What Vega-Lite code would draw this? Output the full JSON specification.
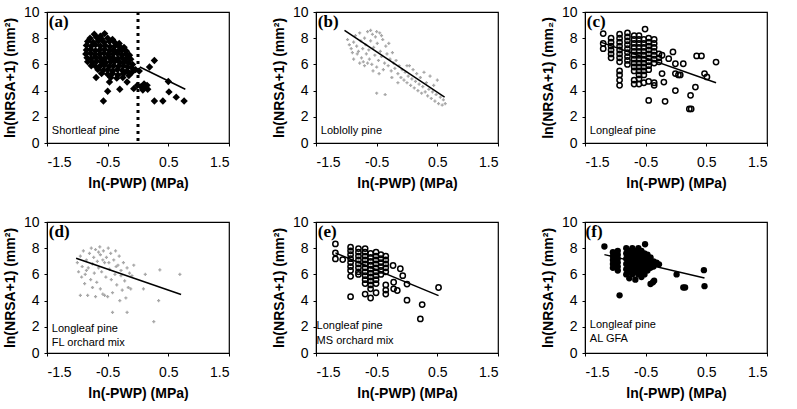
{
  "$schema": "https://vega.github.io/schema/vega-lite/v6.json",
  "background": "white",
  "padding": {"left": 2, "top": 4, "right": 5, "bottom": 5},
  "config": {
    "locale": {"number": {"decimal": ".", "thousands": ",", "grouping": [3], "currency": ["$", ""], "minus": "-"}},
    "view": {"stroke": "black", "strokeWidth": 1.2},
    "style": {"cell": {"stroke": "black", "strokeWidth": 1.2}},
    "axis": {"grid": false, "domainColor": "black", "tickColor": "black", "tickSize": 3, "labelFont": "Liberation Sans", "labelFontSize": 14, "labelColor": "black", "titleFont": "Liberation Sans", "titleFontSize": 14, "titleFontWeight": "bold", "titleColor": "black", "labelOverlap": false},
    "axisX": {"labelPadding": 9, "titlePadding": 7},
    "axisY": {"labelPadding": 5, "titlePadding": 6}
  },
  "datasets": {
    "pa": [
      {"x": -0.72, "y": 8.3}, {"x": -0.55, "y": 8.35}, {"x": -0.62, "y": 8.15},
      {"x": -0.79, "y": 8.0}, {"x": -0.68, "y": 8.05}, {"x": -0.6, "y": 7.95}, {"x": -0.5, "y": 8.0}, {"x": -0.42, "y": 7.9},
      {"x": -0.83, "y": 7.75}, {"x": -0.74, "y": 7.7}, {"x": -0.65, "y": 7.8}, {"x": -0.56, "y": 7.7}, {"x": -0.47, "y": 7.75}, {"x": -0.38, "y": 7.65}, {"x": -0.31, "y": 7.6},
      {"x": -0.85, "y": 7.45}, {"x": -0.77, "y": 7.4}, {"x": -0.7, "y": 7.5}, {"x": -0.62, "y": 7.4}, {"x": -0.54, "y": 7.45}, {"x": -0.46, "y": 7.35}, {"x": -0.38, "y": 7.4}, {"x": -0.3, "y": 7.35}, {"x": -0.23, "y": 7.3},
      {"x": -0.85, "y": 7.1}, {"x": -0.78, "y": 7.15}, {"x": -0.7, "y": 7.05}, {"x": -0.63, "y": 7.1}, {"x": -0.55, "y": 7.15}, {"x": -0.47, "y": 7.05}, {"x": -0.4, "y": 7.1}, {"x": -0.33, "y": 7.0}, {"x": -0.26, "y": 7.1}, {"x": -0.19, "y": 7.0},
      {"x": -0.86, "y": 6.8}, {"x": -0.78, "y": 6.85}, {"x": -0.71, "y": 6.75}, {"x": -0.63, "y": 6.8}, {"x": -0.56, "y": 6.85}, {"x": -0.49, "y": 6.75}, {"x": -0.41, "y": 6.8}, {"x": -0.34, "y": 6.85}, {"x": -0.27, "y": 6.75}, {"x": -0.2, "y": 6.8}, {"x": -0.14, "y": 6.7},
      {"x": -0.84, "y": 6.5}, {"x": -0.77, "y": 6.45}, {"x": -0.7, "y": 6.55}, {"x": -0.62, "y": 6.5}, {"x": -0.55, "y": 6.45}, {"x": -0.48, "y": 6.55}, {"x": -0.41, "y": 6.5}, {"x": -0.33, "y": 6.45}, {"x": -0.26, "y": 6.5}, {"x": -0.19, "y": 6.45}, {"x": -0.12, "y": 6.4},
      {"x": -0.83, "y": 6.2}, {"x": -0.75, "y": 6.15}, {"x": -0.68, "y": 6.25}, {"x": -0.6, "y": 6.2}, {"x": -0.53, "y": 6.15}, {"x": -0.45, "y": 6.2}, {"x": -0.38, "y": 6.25}, {"x": -0.3, "y": 6.15}, {"x": -0.23, "y": 6.2}, {"x": -0.16, "y": 6.1}, {"x": -0.09, "y": 6.0},
      {"x": -0.77, "y": 5.9}, {"x": -0.7, "y": 5.85}, {"x": -0.62, "y": 5.9}, {"x": -0.55, "y": 5.95}, {"x": -0.47, "y": 5.85}, {"x": -0.4, "y": 5.9}, {"x": -0.32, "y": 5.85}, {"x": -0.24, "y": 5.9}, {"x": -0.17, "y": 5.8}, {"x": -0.1, "y": 5.75}, {"x": -0.04, "y": 5.6},
      {"x": -0.66, "y": 5.6}, {"x": -0.57, "y": 5.55}, {"x": -0.5, "y": 5.6}, {"x": -0.42, "y": 5.5}, {"x": -0.34, "y": 5.6}, {"x": -0.26, "y": 5.55}, {"x": -0.18, "y": 5.5}, {"x": -0.1, "y": 5.4},
      {"x": -0.6, "y": 5.3}, {"x": -0.5, "y": 5.25}, {"x": -0.42, "y": 5.3}, {"x": -0.33, "y": 5.2}, {"x": -0.24, "y": 5.3}, {"x": -0.15, "y": 5.15},
      {"x": -0.45, "y": 5.0}, {"x": -0.35, "y": 4.95}, {"x": -0.25, "y": 5.0},
      {"x": -0.69, "y": 5.0}, {"x": -0.57, "y": 3.2}, {"x": -0.5, "y": 3.95}, {"x": -0.47, "y": 4.66}, {"x": -0.3, "y": 4.1}, {"x": -0.18, "y": 4.66}, {"x": -0.07, "y": 4.15},
      {"x": 0.02, "y": 5.5}, {"x": -0.01, "y": 4.4}, {"x": 0.1, "y": 4.5}, {"x": 0.16, "y": 4.1}, {"x": 0.12, "y": 4.3}, {"x": 0.05, "y": 4.3}, {"x": 0.08, "y": 4.05}, {"x": 0.15, "y": 4.4},
      {"x": 0.19, "y": 5.8}, {"x": 0.27, "y": 6.3}, {"x": 0.27, "y": 3.2}, {"x": 0.41, "y": 3.2}, {"x": 0.51, "y": 3.9}, {"x": 0.5, "y": 4.7}, {"x": 0.63, "y": 3.5}, {"x": 0.76, "y": 3.2}
    ],
    "la": [{"x": 0.03, "y": 5.8}, {"x": 0.78, "y": 4.1}],
    "pb": [
      {"x": -0.98, "y": 7.9}, {"x": -0.95, "y": 7.5}, {"x": -0.92, "y": 7.2}, {"x": -0.9, "y": 6.9}, {"x": -0.88, "y": 7.7}, {"x": -0.85, "y": 8.2}, {"x": -0.83, "y": 7.4}, {"x": -0.82, "y": 6.8},
      {"x": -0.8, "y": 7.0}, {"x": -0.78, "y": 8.4}, {"x": -0.76, "y": 7.8}, {"x": -0.75, "y": 6.5}, {"x": -0.73, "y": 7.2}, {"x": -0.72, "y": 6.2}, {"x": -0.7, "y": 8.0}, {"x": -0.68, "y": 7.5},
      {"x": -0.67, "y": 6.8}, {"x": -0.65, "y": 8.5}, {"x": -0.63, "y": 7.1}, {"x": -0.62, "y": 6.4}, {"x": -0.6, "y": 7.8}, {"x": -0.58, "y": 6.0}, {"x": -0.57, "y": 8.3}, {"x": -0.55, "y": 7.3},
      {"x": -0.53, "y": 6.7}, {"x": -0.52, "y": 8.1}, {"x": -0.5, "y": 5.8}, {"x": -0.49, "y": 7.6}, {"x": -0.47, "y": 6.3}, {"x": -0.45, "y": 8.4}, {"x": -0.44, "y": 7.0}, {"x": -0.42, "y": 6.6},
      {"x": -0.4, "y": 7.9}, {"x": -0.39, "y": 5.6}, {"x": -0.37, "y": 6.1}, {"x": -0.35, "y": 7.4}, {"x": -0.33, "y": 6.8}, {"x": -0.31, "y": 5.9}, {"x": -0.3, "y": 7.6}, {"x": -0.28, "y": 6.4},
      {"x": -0.26, "y": 5.5}, {"x": -0.24, "y": 6.9}, {"x": -0.22, "y": 6.1}, {"x": -0.2, "y": 5.7}, {"x": -0.88, "y": 6.4}, {"x": -0.78, "y": 6.1}, {"x": -0.7, "y": 5.9}, {"x": -0.65, "y": 6.1},
      {"x": -0.56, "y": 5.5}, {"x": -0.46, "y": 5.3}, {"x": -0.6, "y": 8.6}, {"x": -0.5, "y": 8.5}, {"x": -0.42, "y": 8.2},
      {"x": -0.18, "y": 6.3}, {"x": -0.15, "y": 5.3}, {"x": -0.13, "y": 5.9}, {"x": -0.1, "y": 5.0}, {"x": -0.08, "y": 5.6}, {"x": -0.05, "y": 4.8}, {"x": -0.03, "y": 5.4}, {"x": 0.0, "y": 4.6},
      {"x": 0.02, "y": 5.1}, {"x": 0.04, "y": 5.9}, {"x": 0.06, "y": 4.4}, {"x": 0.08, "y": 4.9}, {"x": 0.1, "y": 5.6}, {"x": 0.12, "y": 4.2}, {"x": 0.14, "y": 4.7}, {"x": 0.16, "y": 5.3},
      {"x": 0.18, "y": 4.0}, {"x": 0.2, "y": 4.5}, {"x": 0.22, "y": 5.0}, {"x": 0.24, "y": 3.8}, {"x": 0.26, "y": 4.3}, {"x": 0.28, "y": 5.4}, {"x": 0.3, "y": 3.9}, {"x": 0.32, "y": 4.6},
      {"x": 0.34, "y": 3.6}, {"x": 0.36, "y": 4.1}, {"x": 0.38, "y": 5.1}, {"x": 0.4, "y": 3.4}, {"x": 0.42, "y": 3.9}, {"x": 0.44, "y": 4.4}, {"x": 0.46, "y": 3.2}, {"x": 0.48, "y": 3.7},
      {"x": 0.5, "y": 4.8}, {"x": 0.52, "y": 3.0}, {"x": 0.55, "y": 3.5}, {"x": 0.58, "y": 2.9}, {"x": 0.6, "y": 3.3}, {"x": 0.63, "y": 3.0}, {"x": -0.5, "y": 3.8}, {"x": -0.36, "y": 3.7},
      {"x": -0.25, "y": 5.0}, {"x": -0.15, "y": 4.6}, {"x": 0.0, "y": 5.9}
    ],
    "lb": [{"x": -1.03, "y": 8.6}, {"x": 0.62, "y": 3.5}],
    "pc": [
      {"x": -1.2, "y": 8.35}, {"x": -1.2, "y": 7.6}, {"x": -1.2, "y": 7.2},
      {"x": -1.07, "y": 8.0}, {"x": -1.07, "y": 7.7}, {"x": -1.07, "y": 7.4}, {"x": -1.07, "y": 7.1}, {"x": -1.07, "y": 6.8}, {"x": -1.07, "y": 6.5},
      {"x": -0.93, "y": 8.3}, {"x": -0.93, "y": 8.0}, {"x": -0.93, "y": 7.7}, {"x": -0.93, "y": 7.4}, {"x": -0.93, "y": 7.1}, {"x": -0.93, "y": 6.8}, {"x": -0.93, "y": 6.5}, {"x": -0.93, "y": 6.2}, {"x": -0.93, "y": 5.5}, {"x": -0.93, "y": 5.2}, {"x": -0.93, "y": 4.8}, {"x": -0.93, "y": 4.4},
      {"x": -0.8, "y": 8.4}, {"x": -0.8, "y": 8.1}, {"x": -0.8, "y": 7.8}, {"x": -0.8, "y": 7.5}, {"x": -0.8, "y": 7.2}, {"x": -0.8, "y": 6.9}, {"x": -0.8, "y": 6.6}, {"x": -0.8, "y": 6.3}, {"x": -0.8, "y": 6.0},
      {"x": -0.69, "y": 8.2}, {"x": -0.69, "y": 7.9}, {"x": -0.69, "y": 7.6}, {"x": -0.69, "y": 7.3}, {"x": -0.69, "y": 7.0}, {"x": -0.69, "y": 6.7}, {"x": -0.69, "y": 6.4}, {"x": -0.69, "y": 6.1}, {"x": -0.69, "y": 5.8}, {"x": -0.69, "y": 5.5}, {"x": -0.69, "y": 4.8}, {"x": -0.69, "y": 4.5},
      {"x": -0.61, "y": 8.2}, {"x": -0.61, "y": 7.9}, {"x": -0.61, "y": 7.6}, {"x": -0.61, "y": 7.3}, {"x": -0.61, "y": 7.0}, {"x": -0.61, "y": 6.7}, {"x": -0.61, "y": 6.4}, {"x": -0.61, "y": 6.1}, {"x": -0.61, "y": 5.8}, {"x": -0.61, "y": 5.5}, {"x": -0.61, "y": 5.2}, {"x": -0.61, "y": 4.9}, {"x": -0.61, "y": 4.5},
      {"x": -0.51, "y": 8.7}, {"x": -0.53, "y": 7.9}, {"x": -0.53, "y": 7.6}, {"x": -0.53, "y": 7.3}, {"x": -0.53, "y": 7.0}, {"x": -0.53, "y": 6.7}, {"x": -0.53, "y": 6.4}, {"x": -0.53, "y": 6.1}, {"x": -0.53, "y": 5.8}, {"x": -0.53, "y": 5.5}, {"x": -0.53, "y": 5.2}, {"x": -0.53, "y": 4.6},
      {"x": -0.45, "y": 8.0}, {"x": -0.45, "y": 7.7}, {"x": -0.45, "y": 7.4}, {"x": -0.45, "y": 7.1}, {"x": -0.45, "y": 6.8}, {"x": -0.45, "y": 6.5}, {"x": -0.45, "y": 6.2}, {"x": -0.45, "y": 5.9}, {"x": -0.45, "y": 5.6}, {"x": -0.45, "y": 4.7},
      {"x": -0.36, "y": 7.9}, {"x": -0.36, "y": 7.6}, {"x": -0.36, "y": 7.3}, {"x": -0.36, "y": 7.0}, {"x": -0.36, "y": 6.7}, {"x": -0.36, "y": 6.4}, {"x": -0.36, "y": 6.1}, {"x": -0.36, "y": 4.6}, {"x": -0.36, "y": 4.4},
      {"x": -0.28, "y": 6.8}, {"x": -0.28, "y": 6.5}, {"x": -0.28, "y": 6.2},
      {"x": -0.23, "y": 6.7}, {"x": -0.23, "y": 5.3}, {"x": -0.2, "y": 4.65}, {"x": -0.12, "y": 6.44}, {"x": -0.05, "y": 6.95}, {"x": -0.01, "y": 6.05}, {"x": -0.01, "y": 5.3}, {"x": 0.04, "y": 5.2},
      {"x": 0.07, "y": 5.2}, {"x": -0.01, "y": 4.0}, {"x": 0.12, "y": 6.05}, {"x": 0.24, "y": 3.64}, {"x": 0.22, "y": 2.6}, {"x": 0.25, "y": 2.6}, {"x": 0.32, "y": 4.27}, {"x": 0.34, "y": 6.65},
      {"x": 0.42, "y": 6.65}, {"x": 0.47, "y": 5.3}, {"x": 0.51, "y": 5.04}, {"x": 0.66, "y": 6.18}, {"x": -0.45, "y": 3.25}, {"x": -0.18, "y": 3.18}
    ],
    "lc": [{"x": -1.24, "y": 7.7}, {"x": 0.66, "y": 4.6}],
    "pd": [
      {"x": -1.0, "y": 6.9}, {"x": -0.98, "y": 6.2}, {"x": -0.95, "y": 7.4}, {"x": -0.93, "y": 5.8}, {"x": -0.92, "y": 6.6}, {"x": -0.9, "y": 7.8}, {"x": -0.88, "y": 5.3}, {"x": -0.87, "y": 6.0},
      {"x": -0.85, "y": 7.1}, {"x": -0.83, "y": 4.4}, {"x": -0.82, "y": 6.5}, {"x": -0.8, "y": 7.6}, {"x": -0.78, "y": 5.6}, {"x": -0.77, "y": 8.0}, {"x": -0.75, "y": 6.8}, {"x": -0.73, "y": 7.3},
      {"x": -0.72, "y": 6.1}, {"x": -0.7, "y": 7.9}, {"x": -0.68, "y": 5.4}, {"x": -0.67, "y": 7.0}, {"x": -0.65, "y": 6.5}, {"x": -0.63, "y": 8.1}, {"x": -0.62, "y": 7.5}, {"x": -0.6, "y": 6.2},
      {"x": -0.58, "y": 4.5}, {"x": -0.57, "y": 7.8}, {"x": -0.55, "y": 6.9}, {"x": -0.53, "y": 5.8}, {"x": -0.52, "y": 7.3}, {"x": -0.5, "y": 4.3}, {"x": -0.49, "y": 8.0}, {"x": -0.47, "y": 6.4},
      {"x": -0.45, "y": 7.6}, {"x": -0.44, "y": 5.6}, {"x": -0.42, "y": 4.6}, {"x": -0.4, "y": 7.1}, {"x": -0.38, "y": 6.0}, {"x": -0.37, "y": 7.8}, {"x": -0.35, "y": 5.2}, {"x": -0.33, "y": 6.7},
      {"x": -0.31, "y": 7.4}, {"x": -0.3, "y": 4.0}, {"x": -0.28, "y": 6.3}, {"x": -0.26, "y": 4.8}, {"x": -0.24, "y": 6.9}, {"x": -0.22, "y": 5.5}, {"x": -0.2, "y": 4.2}, {"x": -0.18, "y": 6.5},
      {"x": -0.16, "y": 5.0}, {"x": -0.14, "y": 6.1}, {"x": -0.12, "y": 4.9}, {"x": -0.1, "y": 5.9}, {"x": -0.07, "y": 6.7}, {"x": 0.09, "y": 4.9}, {"x": 0.12, "y": 6.0}, {"x": 0.34, "y": 4.0},
      {"x": 0.36, "y": 6.35}, {"x": 0.69, "y": 6.0}, {"x": -0.42, "y": 3.1}, {"x": -0.18, "y": 3.1}, {"x": 0.26, "y": 2.4}, {"x": -0.85, "y": 6.3}, {"x": -0.75, "y": 5.0}, {"x": -0.62, "y": 4.9},
      {"x": -0.55, "y": 4.4}, {"x": -0.65, "y": 7.7}, {"x": -0.58, "y": 7.1}, {"x": -0.48, "y": 6.9}, {"x": -0.36, "y": 6.6}, {"x": -0.28, "y": 5.9}, {"x": -0.95, "y": 4.4}, {"x": -0.7, "y": 4.3}
    ],
    "ld": [{"x": -1.02, "y": 7.23}, {"x": 0.71, "y": 4.47}],
    "pe": [
      {"x": -1.18, "y": 8.33}, {"x": -1.18, "y": 7.64}, {"x": -1.18, "y": 7.18}, {"x": -1.06, "y": 7.13},
      {"x": -0.93, "y": 8.08}, {"x": -0.93, "y": 7.8}, {"x": -0.93, "y": 7.5}, {"x": -0.93, "y": 7.2}, {"x": -0.93, "y": 6.9}, {"x": -0.93, "y": 6.6}, {"x": -0.93, "y": 6.3}, {"x": -0.93, "y": 5.85}, {"x": -0.93, "y": 4.3},
      {"x": -0.8, "y": 7.97}, {"x": -0.8, "y": 7.7}, {"x": -0.8, "y": 7.4}, {"x": -0.8, "y": 7.1}, {"x": -0.8, "y": 6.8}, {"x": -0.8, "y": 6.5}, {"x": -0.8, "y": 6.2}, {"x": -0.8, "y": 6.0},
      {"x": -0.69, "y": 7.97}, {"x": -0.69, "y": 7.7}, {"x": -0.69, "y": 7.4}, {"x": -0.69, "y": 7.1}, {"x": -0.69, "y": 6.8}, {"x": -0.69, "y": 6.5}, {"x": -0.69, "y": 6.2}, {"x": -0.69, "y": 5.9}, {"x": -0.69, "y": 5.6}, {"x": -0.69, "y": 5.3}, {"x": -0.69, "y": 4.5},
      {"x": -0.6, "y": 7.6}, {"x": -0.6, "y": 7.3}, {"x": -0.6, "y": 7.0}, {"x": -0.6, "y": 6.7}, {"x": -0.6, "y": 6.4}, {"x": -0.6, "y": 6.1}, {"x": -0.6, "y": 5.8}, {"x": -0.6, "y": 5.5}, {"x": -0.6, "y": 5.2}, {"x": -0.6, "y": 4.9}, {"x": -0.6, "y": 4.2},
      {"x": -0.51, "y": 7.7}, {"x": -0.51, "y": 7.4}, {"x": -0.51, "y": 7.1}, {"x": -0.51, "y": 6.8}, {"x": -0.51, "y": 6.5}, {"x": -0.51, "y": 6.2}, {"x": -0.51, "y": 5.9}, {"x": -0.51, "y": 5.6}, {"x": -0.51, "y": 5.3}, {"x": -0.51, "y": 4.6},
      {"x": -0.43, "y": 7.5}, {"x": -0.43, "y": 7.2}, {"x": -0.43, "y": 6.9}, {"x": -0.43, "y": 6.6}, {"x": -0.43, "y": 6.3}, {"x": -0.43, "y": 6.0},
      {"x": -0.35, "y": 7.4}, {"x": -0.35, "y": 7.1}, {"x": -0.35, "y": 6.8}, {"x": -0.35, "y": 6.5}, {"x": -0.35, "y": 6.2}, {"x": -0.35, "y": 5.2}, {"x": -0.35, "y": 4.8}, {"x": -0.35, "y": 4.5},
      {"x": -0.23, "y": 6.68}, {"x": -0.22, "y": 5.4}, {"x": -0.16, "y": 4.77}, {"x": -0.22, "y": 4.9}, {"x": -0.11, "y": 6.43}, {"x": -0.07, "y": 5.9}, {"x": 0.0, "y": 5.26}, {"x": 0.0, "y": 4.03},
      {"x": 0.25, "y": 3.7}, {"x": 0.22, "y": 2.6}, {"x": 0.52, "y": 5.0}
    ],
    "le": [{"x": -1.18, "y": 7.64}, {"x": 0.52, "y": 4.38}],
    "pf": [
      {"x": -1.18, "y": 8.13},
      {"x": -1.04, "y": 7.7}, {"x": -1.04, "y": 7.4}, {"x": -1.04, "y": 7.1}, {"x": -1.04, "y": 6.8}, {"x": -1.04, "y": 6.5},
      {"x": -0.96, "y": 7.8}, {"x": -0.96, "y": 7.5}, {"x": -0.96, "y": 7.2}, {"x": -0.96, "y": 6.9}, {"x": -0.96, "y": 6.6}, {"x": -0.96, "y": 6.3},
      {"x": -0.93, "y": 4.4},
      {"x": -0.82, "y": 8.0}, {"x": -0.82, "y": 7.6}, {"x": -0.82, "y": 7.2}, {"x": -0.82, "y": 6.8}, {"x": -0.82, "y": 6.4}, {"x": -0.82, "y": 6.0},
      {"x": -0.77, "y": 7.8}, {"x": -0.77, "y": 7.4}, {"x": -0.77, "y": 7.0}, {"x": -0.77, "y": 6.6}, {"x": -0.77, "y": 6.2}, {"x": -0.77, "y": 5.7},
      {"x": -0.72, "y": 8.0}, {"x": -0.72, "y": 7.6}, {"x": -0.72, "y": 7.2}, {"x": -0.72, "y": 6.8}, {"x": -0.72, "y": 6.4}, {"x": -0.72, "y": 6.0},
      {"x": -0.67, "y": 7.8}, {"x": -0.67, "y": 7.4}, {"x": -0.67, "y": 7.0}, {"x": -0.67, "y": 6.6}, {"x": -0.67, "y": 6.2}, {"x": -0.67, "y": 5.6},
      {"x": -0.62, "y": 8.0}, {"x": -0.62, "y": 7.6}, {"x": -0.62, "y": 7.2}, {"x": -0.62, "y": 6.8}, {"x": -0.62, "y": 6.4}, {"x": -0.62, "y": 6.0},
      {"x": -0.57, "y": 7.8}, {"x": -0.57, "y": 7.4}, {"x": -0.57, "y": 7.0}, {"x": -0.57, "y": 6.6}, {"x": -0.57, "y": 6.2}, {"x": -0.57, "y": 5.8},
      {"x": -0.52, "y": 7.6}, {"x": -0.52, "y": 7.2}, {"x": -0.52, "y": 6.8}, {"x": -0.52, "y": 6.4}, {"x": -0.52, "y": 6.0},
      {"x": -0.47, "y": 7.5}, {"x": -0.47, "y": 7.1}, {"x": -0.47, "y": 6.7}, {"x": -0.47, "y": 6.3},
      {"x": -0.42, "y": 7.3}, {"x": -0.42, "y": 6.9}, {"x": -0.42, "y": 6.5},
      {"x": -0.37, "y": 7.0}, {"x": -0.37, "y": 6.6},
      {"x": -0.51, "y": 8.3}, {"x": -0.28, "y": 6.77}, {"x": -0.32, "y": 6.9}, {"x": -0.36, "y": 5.52}, {"x": -0.42, "y": 5.27}, {"x": -0.38, "y": 5.4},
      {"x": 0.01, "y": 6.0}, {"x": 0.12, "y": 5.0}, {"x": 0.15, "y": 5.0}, {"x": 0.46, "y": 6.32}, {"x": 0.47, "y": 5.1}
    ],
    "lf": [{"x": -1.18, "y": 7.51}, {"x": 0.47, "y": 5.72}],
    "one": [{"k": 1}]
  },
  "columns": 3,
  "bounds": "flush",
  "spacing": {"row": 79, "column": 87},
  "concat": [
    {
      "width": 182, "height": 131,
      "layer": [
        {"data": {"name": "one"}, "mark": {"type": "rule", "color": "black", "strokeWidth": 3, "strokeDash": [3, 4]}, "encoding": {"x": {"datum": 0, "type": "quantitative", "axis": {"values": [-1.5, -0.5, 0.5, 1.5], "format": ".1f", "title": "ln(-PWP) (MPa)", "labelOverlap": false}}}},
        {"data": {"name": "pa"}, "mark": {"type": "point", "shape": "diamond", "filled": true, "color": "black", "size": 55, "opacity": 1},
          "encoding": {
            "x": {"field": "x", "type": "quantitative", "scale": {"domain": [-1.5, 1.5], "nice": false, "zero": false}, "axis": {"values": [-1.5, -0.5, 0.5, 1.5], "format": ".1f", "title": "ln(-PWP) (MPa)", "labelOverlap": false}},
            "y": {"field": "y", "type": "quantitative", "scale": {"domain": [0, 10], "nice": false}, "axis": {"values": [0, 2, 4, 6, 8, 10], "title": "ln(NRSA+1) (mm²)", "labelOverlap": false}}
          }},
        {"data": {"name": "la"}, "mark": {"type": "line", "color": "black", "strokeWidth": 1.5}, "encoding": {"x": {"field": "x", "type": "quantitative", "axis": {"values": [-1.5, -0.5, 0.5, 1.5], "format": ".1f", "title": "ln(-PWP) (MPa)", "labelOverlap": false}}, "y": {"field": "y", "type": "quantitative", "axis": {"values": [0, 2, 4, 6, 8, 10], "title": "ln(NRSA+1) (mm²)", "labelOverlap": false}}}},
        {"data": {"name": "one"}, "mark": {"type": "text", "font": "Liberation Serif", "fontWeight": "bold", "fontSize": 17, "align": "left", "baseline": "middle", "color": "black"}, "encoding": {"x": {"datum": -1.47, "type": "quantitative", "axis": {"values": [-1.5, -0.5, 0.5, 1.5], "format": ".1f", "title": "ln(-PWP) (MPa)", "labelOverlap": false}}, "y": {"datum": 9.2, "type": "quantitative", "axis": {"values": [0, 2, 4, 6, 8, 10], "title": "ln(NRSA+1) (mm²)", "labelOverlap": false}}, "text": {"value": "(a)"}}},
        {"data": {"name": "one"}, "mark": {"type": "text", "font": "Liberation Sans", "fontSize": 11, "align": "left", "baseline": "middle", "color": "black"}, "encoding": {"x": {"datum": -1.42, "type": "quantitative", "axis": {"values": [-1.5, -0.5, 0.5, 1.5], "format": ".1f", "title": "ln(-PWP) (MPa)", "labelOverlap": false}}, "y": {"datum": 0.9, "type": "quantitative", "axis": {"values": [0, 2, 4, 6, 8, 10], "title": "ln(NRSA+1) (mm²)", "labelOverlap": false}}, "text": {"value": "Shortleaf pine"}}}
      ]
    },
    {
      "width": 182, "height": 131,
      "layer": [
        {"data": {"name": "pb"}, "mark": {"type": "point", "shape": "cross", "filled": true, "color": "#a8a8a8", "size": 10, "opacity": 1},
          "encoding": {
            "x": {"field": "x", "type": "quantitative", "scale": {"domain": [-1.5, 1.5], "nice": false, "zero": false}, "axis": {"values": [-1.5, -0.5, 0.5, 1.5], "format": ".1f", "title": "ln(-PWP) (MPa)", "labelOverlap": false}},
            "y": {"field": "y", "type": "quantitative", "scale": {"domain": [0, 10], "nice": false}, "axis": {"values": [0, 2, 4, 6, 8, 10], "title": "ln(NRSA+1) (mm²)", "labelOverlap": false}}
          }},
        {"data": {"name": "lb"}, "mark": {"type": "line", "color": "black", "strokeWidth": 1.5}, "encoding": {"x": {"field": "x", "type": "quantitative", "axis": {"values": [-1.5, -0.5, 0.5, 1.5], "format": ".1f", "title": "ln(-PWP) (MPa)", "labelOverlap": false}}, "y": {"field": "y", "type": "quantitative", "axis": {"values": [0, 2, 4, 6, 8, 10], "title": "ln(NRSA+1) (mm²)", "labelOverlap": false}}}},
        {"data": {"name": "one"}, "mark": {"type": "text", "font": "Liberation Serif", "fontWeight": "bold", "fontSize": 17, "align": "left", "baseline": "middle", "color": "black"}, "encoding": {"x": {"datum": -1.47, "type": "quantitative", "axis": {"values": [-1.5, -0.5, 0.5, 1.5], "format": ".1f", "title": "ln(-PWP) (MPa)", "labelOverlap": false}}, "y": {"datum": 9.2, "type": "quantitative", "axis": {"values": [0, 2, 4, 6, 8, 10], "title": "ln(NRSA+1) (mm²)", "labelOverlap": false}}, "text": {"value": "(b)"}}},
        {"data": {"name": "one"}, "mark": {"type": "text", "font": "Liberation Sans", "fontSize": 11, "align": "left", "baseline": "middle", "color": "black"}, "encoding": {"x": {"datum": -1.42, "type": "quantitative", "axis": {"values": [-1.5, -0.5, 0.5, 1.5], "format": ".1f", "title": "ln(-PWP) (MPa)", "labelOverlap": false}}, "y": {"datum": 0.95, "type": "quantitative", "axis": {"values": [0, 2, 4, 6, 8, 10], "title": "ln(NRSA+1) (mm²)", "labelOverlap": false}}, "text": {"value": "Loblolly pine"}}}
      ]
    },
    {
      "width": 182, "height": 131,
      "layer": [
        {"data": {"name": "pc"}, "mark": {"type": "point", "shape": "circle", "filled": false, "color": "black", "strokeWidth": 1.5, "size": 28, "opacity": 1},
          "encoding": {
            "x": {"field": "x", "type": "quantitative", "scale": {"domain": [-1.5, 1.5], "nice": false, "zero": false}, "axis": {"values": [-1.5, -0.5, 0.5, 1.5], "format": ".1f", "title": "ln(-PWP) (MPa)", "labelOverlap": false}},
            "y": {"field": "y", "type": "quantitative", "scale": {"domain": [0, 10], "nice": false}, "axis": {"values": [0, 2, 4, 6, 8, 10], "title": "ln(NRSA+1) (mm₂)", "labelOverlap": false}}
          }},
        {"data": {"name": "lc"}, "mark": {"type": "line", "color": "black", "strokeWidth": 1.5}, "encoding": {"x": {"field": "x", "type": "quantitative", "axis": {"values": [-1.5, -0.5, 0.5, 1.5], "format": ".1f", "title": "ln(-PWP) (MPa)", "labelOverlap": false}}, "y": {"field": "y", "type": "quantitative", "axis": {"values": [0, 2, 4, 6, 8, 10], "title": "ln(NRSA+1) (mm₂)", "labelOverlap": false}}}},
        {"data": {"name": "one"}, "mark": {"type": "text", "font": "Liberation Serif", "fontWeight": "bold", "fontSize": 17, "align": "left", "baseline": "middle", "color": "black"}, "encoding": {"x": {"datum": -1.47, "type": "quantitative", "axis": {"values": [-1.5, -0.5, 0.5, 1.5], "format": ".1f", "title": "ln(-PWP) (MPa)", "labelOverlap": false}}, "y": {"datum": 9.2, "type": "quantitative", "axis": {"values": [0, 2, 4, 6, 8, 10], "title": "ln(NRSA+1) (mm₂)", "labelOverlap": false}}, "text": {"value": "(c)"}}},
        {"data": {"name": "one"}, "mark": {"type": "text", "font": "Liberation Sans", "fontSize": 11, "align": "left", "baseline": "middle", "color": "black"}, "encoding": {"x": {"datum": -1.42, "type": "quantitative", "axis": {"values": [-1.5, -0.5, 0.5, 1.5], "format": ".1f", "title": "ln(-PWP) (MPa)", "labelOverlap": false}}, "y": {"datum": 0.9, "type": "quantitative", "axis": {"values": [0, 2, 4, 6, 8, 10], "title": "ln(NRSA+1) (mm₂)", "labelOverlap": false}}, "text": {"value": "Longleaf pine"}}}
      ]
    },
    {
      "width": 182, "height": 131,
      "layer": [
        {"data": {"name": "pd"}, "mark": {"type": "point", "shape": "cross", "filled": true, "color": "#a8a8a8", "size": 10, "opacity": 1},
          "encoding": {
            "x": {"field": "x", "type": "quantitative", "scale": {"domain": [-1.5, 1.5], "nice": false, "zero": false}, "axis": {"values": [-1.5, -0.5, 0.5, 1.5], "format": ".1f", "title": "ln(-PWP) (MPa)", "labelOverlap": false}},
            "y": {"field": "y", "type": "quantitative", "scale": {"domain": [0, 10], "nice": false}, "axis": {"values": [0, 2, 4, 6, 8, 10], "title": "ln(NRSA+1) (mm²)", "labelOverlap": false}}
          }},
        {"data": {"name": "ld"}, "mark": {"type": "line", "color": "black", "strokeWidth": 1.5}, "encoding": {"x": {"field": "x", "type": "quantitative", "axis": {"values": [-1.5, -0.5, 0.5, 1.5], "format": ".1f", "title": "ln(-PWP) (MPa)", "labelOverlap": false}}, "y": {"field": "y", "type": "quantitative", "axis": {"values": [0, 2, 4, 6, 8, 10], "title": "ln(NRSA+1) (mm²)", "labelOverlap": false}}}},
        {"data": {"name": "one"}, "mark": {"type": "text", "font": "Liberation Serif", "fontWeight": "bold", "fontSize": 17, "align": "left", "baseline": "middle", "color": "black"}, "encoding": {"x": {"datum": -1.47, "type": "quantitative", "axis": {"values": [-1.5, -0.5, 0.5, 1.5], "format": ".1f", "title": "ln(-PWP) (MPa)", "labelOverlap": false}}, "y": {"datum": 9.2, "type": "quantitative", "axis": {"values": [0, 2, 4, 6, 8, 10], "title": "ln(NRSA+1) (mm²)", "labelOverlap": false}}, "text": {"value": "(d)"}}},
        {"data": {"name": "one"}, "mark": {"type": "text", "font": "Liberation Sans", "fontSize": 11, "align": "left", "baseline": "middle", "color": "black"}, "encoding": {"x": {"datum": -1.42, "type": "quantitative", "axis": {"values": [-1.5, -0.5, 0.5, 1.5], "format": ".1f", "title": "ln(-PWP) (MPa)", "labelOverlap": false}}, "y": {"datum": 1.86, "type": "quantitative", "axis": {"values": [0, 2, 4, 6, 8, 10], "title": "ln(NRSA+1) (mm²)", "labelOverlap": false}}, "text": {"value": "Longleaf pine"}}},
        {"data": {"name": "one"}, "mark": {"type": "text", "font": "Liberation Sans", "fontSize": 11, "align": "left", "baseline": "middle", "color": "black"}, "encoding": {"x": {"datum": -1.42, "type": "quantitative", "axis": {"values": [-1.5, -0.5, 0.5, 1.5], "format": ".1f", "title": "ln(-PWP) (MPa)", "labelOverlap": false}}, "y": {"datum": 0.78, "type": "quantitative", "axis": {"values": [0, 2, 4, 6, 8, 10], "title": "ln(NRSA+1) (mm²)", "labelOverlap": false}}, "text": {"value": "FL orchard mix"}}}
      ]
    },
    {
      "width": 182, "height": 131,
      "layer": [
        {"data": {"name": "pe"}, "mark": {"type": "point", "shape": "circle", "filled": false, "color": "black", "strokeWidth": 1.5, "size": 28, "opacity": 1},
          "encoding": {
            "x": {"field": "x", "type": "quantitative", "scale": {"domain": [-1.5, 1.5], "nice": false, "zero": false}, "axis": {"values": [-1.5, -0.5, 0.5, 1.5], "format": ".1f", "title": "ln(-PWP) (MPa)", "labelOverlap": false}},
            "y": {"field": "y", "type": "quantitative", "scale": {"domain": [0, 10], "nice": false}, "axis": {"values": [0, 2, 4, 6, 8, 10], "title": "ln(NRSA+1) (mm²)", "labelOverlap": false}}
          }},
        {"data": {"name": "le"}, "mark": {"type": "line", "color": "black", "strokeWidth": 1.5}, "encoding": {"x": {"field": "x", "type": "quantitative", "axis": {"values": [-1.5, -0.5, 0.5, 1.5], "format": ".1f", "title": "ln(-PWP) (MPa)", "labelOverlap": false}}, "y": {"field": "y", "type": "quantitative", "axis": {"values": [0, 2, 4, 6, 8, 10], "title": "ln(NRSA+1) (mm²)", "labelOverlap": false}}}},
        {"data": {"name": "one"}, "mark": {"type": "text", "font": "Liberation Serif", "fontWeight": "bold", "fontSize": 17, "align": "left", "baseline": "middle", "color": "black"}, "encoding": {"x": {"datum": -1.47, "type": "quantitative", "axis": {"values": [-1.5, -0.5, 0.5, 1.5], "format": ".1f", "title": "ln(-PWP) (MPa)", "labelOverlap": false}}, "y": {"datum": 9.2, "type": "quantitative", "axis": {"values": [0, 2, 4, 6, 8, 10], "title": "ln(NRSA+1) (mm²)", "labelOverlap": false}}, "text": {"value": "(e)"}}},
        {"data": {"name": "one"}, "mark": {"type": "text", "font": "Liberation Sans", "fontSize": 11, "align": "left", "baseline": "middle", "color": "black"}, "encoding": {"x": {"datum": -1.49, "type": "quantitative", "axis": {"values": [-1.5, -0.5, 0.5, 1.5], "format": ".1f", "title": "ln(-PWP) (MPa)", "labelOverlap": false}}, "y": {"datum": 2.07, "type": "quantitative", "axis": {"values": [0, 2, 4, 6, 8, 10], "title": "ln(NRSA+1) (mm²)", "labelOverlap": false}}, "text": {"value": "Longleaf pine"}}},
        {"data": {"name": "one"}, "mark": {"type": "text", "font": "Liberation Sans", "fontSize": 11, "align": "left", "baseline": "middle", "color": "black"}, "encoding": {"x": {"datum": -1.49, "type": "quantitative", "axis": {"values": [-1.5, -0.5, 0.5, 1.5], "format": ".1f", "title": "ln(-PWP) (MPa)", "labelOverlap": false}}, "y": {"datum": 0.9, "type": "quantitative", "axis": {"values": [0, 2, 4, 6, 8, 10], "title": "ln(NRSA+1) (mm²)", "labelOverlap": false}}, "text": {"value": "MS orchard mix"}}}
      ]
    },
    {
      "width": 182, "height": 131,
      "layer": [
        {"data": {"name": "pf"}, "mark": {"type": "point", "shape": "circle", "filled": true, "color": "black", "size": 40, "opacity": 1},
          "encoding": {
            "x": {"field": "x", "type": "quantitative", "scale": {"domain": [-1.5, 1.5], "nice": false, "zero": false}, "axis": {"values": [-1.5, -0.5, 0.5, 1.5], "format": ".1f", "title": "ln(-PWP) (MPa)", "labelOverlap": false}},
            "y": {"field": "y", "type": "quantitative", "scale": {"domain": [0, 10], "nice": false}, "axis": {"values": [0, 2, 4, 6, 8, 10], "title": "ln(NRSA+1) (mm²)", "labelOverlap": false}}
          }},
        {"data": {"name": "lf"}, "mark": {"type": "line", "color": "black", "strokeWidth": 1.5}, "encoding": {"x": {"field": "x", "type": "quantitative", "axis": {"values": [-1.5, -0.5, 0.5, 1.5], "format": ".1f", "title": "ln(-PWP) (MPa)", "labelOverlap": false}}, "y": {"field": "y", "type": "quantitative", "axis": {"values": [0, 2, 4, 6, 8, 10], "title": "ln(NRSA+1) (mm²)", "labelOverlap": false}}}},
        {"data": {"name": "one"}, "mark": {"type": "text", "font": "Liberation Serif", "fontWeight": "bold", "fontSize": 17, "align": "left", "baseline": "middle", "color": "black"}, "encoding": {"x": {"datum": -1.49, "type": "quantitative", "axis": {"values": [-1.5, -0.5, 0.5, 1.5], "format": ".1f", "title": "ln(-PWP) (MPa)", "labelOverlap": false}}, "y": {"datum": 9.2, "type": "quantitative", "axis": {"values": [0, 2, 4, 6, 8, 10], "title": "ln(NRSA+1) (mm²)", "labelOverlap": false}}, "text": {"value": "(f)"}}},
        {"data": {"name": "one"}, "mark": {"type": "text", "font": "Liberation Sans", "fontSize": 11, "align": "left", "baseline": "middle", "color": "black"}, "encoding": {"x": {"datum": -1.42, "type": "quantitative", "axis": {"values": [-1.5, -0.5, 0.5, 1.5], "format": ".1f", "title": "ln(-PWP) (MPa)", "labelOverlap": false}}, "y": {"datum": 2.1, "type": "quantitative", "axis": {"values": [0, 2, 4, 6, 8, 10], "title": "ln(NRSA+1) (mm²)", "labelOverlap": false}}, "text": {"value": "Longleaf pine"}}},
        {"data": {"name": "one"}, "mark": {"type": "text", "font": "Liberation Sans", "fontSize": 11, "align": "left", "baseline": "middle", "color": "black"}, "encoding": {"x": {"datum": -1.42, "type": "quantitative", "axis": {"values": [-1.5, -0.5, 0.5, 1.5], "format": ".1f", "title": "ln(-PWP) (MPa)", "labelOverlap": false}}, "y": {"datum": 1.05, "type": "quantitative", "axis": {"values": [0, 2, 4, 6, 8, 10], "title": "ln(NRSA+1) (mm²)", "labelOverlap": false}}, "text": {"value": "AL GFA"}}}
      ]
    }
  ]
}
